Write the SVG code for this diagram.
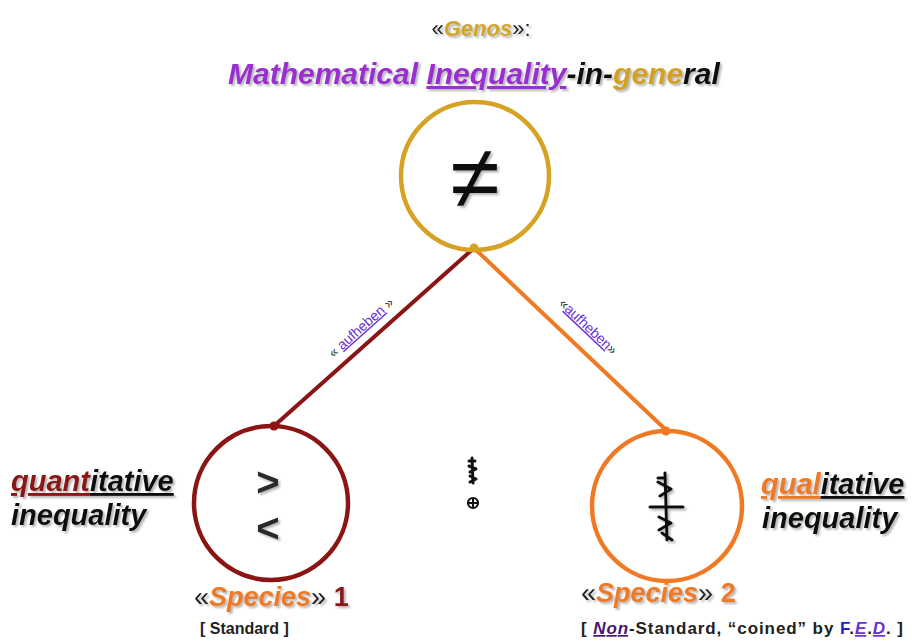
<svg xmlns="http://www.w3.org/2000/svg" width="912" height="644" viewBox="0 0 912 644">
<defs>
<filter id="sh" x="-10%" y="-10%" width="130%" height="140%">
<feDropShadow dx="2" dy="2" stdDeviation="1" flood-color="#777" flood-opacity="0.55"/>
</filter>
<style>
.bi{font-family:"Liberation Sans",Arial,sans-serif;font-weight:bold;font-style:italic}
.b{font-family:"Liberation Sans",Arial,sans-serif;font-weight:bold}
.r{font-family:"Liberation Sans",Arial,sans-serif}
.u{text-decoration:underline}
.ring{fill:none;stroke-width:4.5}
.lbl{font-family:"Liberation Sans",Arial,sans-serif;font-size:14px}
.sym{fill:none;stroke:#111;stroke-width:3;stroke-linecap:round;stroke-linejoin:round}
.chev{font-family:"Liberation Sans",Arial,sans-serif;font-weight:bold;font-size:40px;fill:#2a2a2a}
</style>
</defs>
<rect width="912" height="644" fill="#fff"/>

<g id="title">
<text x="481" y="36" text-anchor="middle" class="r" font-size="22" filter="url(#sh)"><tspan fill="#222">«</tspan><tspan class="bi" fill="#D4A628">Genos</tspan><tspan fill="#222">»:</tspan></text>
<text x="228" y="84" class="bi" font-size="30" filter="url(#sh)"><tspan fill="#9A2FD0">Mathematical </tspan><tspan fill="#9A2FD0" class="u">Inequality</tspan><tspan fill="#111">-in-</tspan><tspan fill="#D4A020">gene</tspan><tspan fill="#111">ral</tspan></text>
</g>

<g id="connectors">
<line x1="474" y1="248" x2="274" y2="426" stroke="#8B1414" stroke-width="4"/>
<line x1="474" y1="248" x2="666" y2="430" stroke="#F07A24" stroke-width="4"/>
<text class="lbl" transform="translate(364 331) rotate(-41.7)" text-anchor="middle"><tspan fill="#333">« </tspan><tspan fill="#6A2FD0" class="u">aufheben</tspan><tspan fill="#333"> »</tspan></text>
<text class="lbl" transform="translate(585 330) rotate(43.5)" text-anchor="middle"><tspan fill="#333">«</tspan><tspan fill="#6A2FD0" class="u">aufheben</tspan><tspan fill="#333">»</tspan></text>
</g>

<g id="genos">
<circle cx="475" cy="176" r="74" class="ring" stroke="#D6A224"/>
<text x="475" y="208" text-anchor="middle" class="r" font-size="90" fill="#111" filter="url(#sh)">≠</text>
<circle cx="474" cy="248" r="4.5" fill="#D6A224"/>
</g>

<g id="species1">
<circle cx="271" cy="503" r="77" class="ring" stroke="#8B1414"/>
<circle cx="274" cy="426" r="4.5" fill="#8B1414"/>
<text x="268" y="496" text-anchor="middle" class="chev" filter="url(#sh)">&gt;</text>
<text x="268" y="542" text-anchor="middle" class="chev" filter="url(#sh)">&lt;</text>
<text x="11" y="491" class="bi" font-size="29" filter="url(#sh)"><tspan fill="#8B1414" class="u">quant</tspan><tspan fill="#111" class="u">itative</tspan></text>
<text x="11" y="525" class="bi" font-size="29" fill="#111" filter="url(#sh)">inequality</text>
<text x="194" y="606" class="r" font-size="27" filter="url(#sh)"><tspan fill="#222">«</tspan><tspan class="bi" fill="#F07A24">Species</tspan><tspan fill="#222">» </tspan><tspan class="b" fill="#8B1414">1</tspan></text>
<text x="200" y="634" class="b" font-size="16" fill="#222">[ Standard ]</text>
</g>

<g id="middle">
<path class="sym" stroke-width="1.4" d="M472 458 L473 483 M469 461 L475 461 M469 466 L476 469 L470 472 M470 476 L476 479 L470 482"/>
<circle cx="473" cy="503" r="5" fill="none" stroke="#111" stroke-width="2.2"/>
<path d="M468 503 H478 M473 498 V508" stroke="#111" stroke-width="2"/>
</g>

<g id="species2">
<circle cx="667" cy="506" r="75" class="ring" stroke="#F07A24"/>
<circle cx="666" cy="431" r="4.5" fill="#F07A24"/>
<g filter="url(#sh)">
<path class="sym" d="M665 473 L667 540 M650 507 H683 M658 478 L665 478 M658 482 L671 489 L660 496 M659 517 L671 523 L659 530 M662 533 L672 540"/>
</g>
<text x="761" y="494" class="bi" font-size="29" filter="url(#sh)"><tspan fill="#F07A24" class="u">qual</tspan><tspan fill="#111" class="u">itative</tspan></text>
<text x="762" y="528" class="bi" font-size="29" fill="#111" filter="url(#sh)">inequality</text>
<text x="581" y="602" class="r" font-size="27" filter="url(#sh)"><tspan fill="#222">«</tspan><tspan class="bi" fill="#F07A24">Species</tspan><tspan fill="#222">» </tspan><tspan class="b" fill="#F07A24">2</tspan></text>
<text x="581" y="634" class="b" font-size="17" fill="#222" textLength="322" lengthAdjust="spacing">[ <tspan class="bi u" fill="#4A1470">Non</tspan>-Standard, “coined” by <tspan fill="#2424C8">F</tspan>.<tspan class="bi u" fill="#6A2FD0">E</tspan>.<tspan class="bi u" fill="#6A2FD0">D</tspan>. ]</text>
</g>
</svg>
